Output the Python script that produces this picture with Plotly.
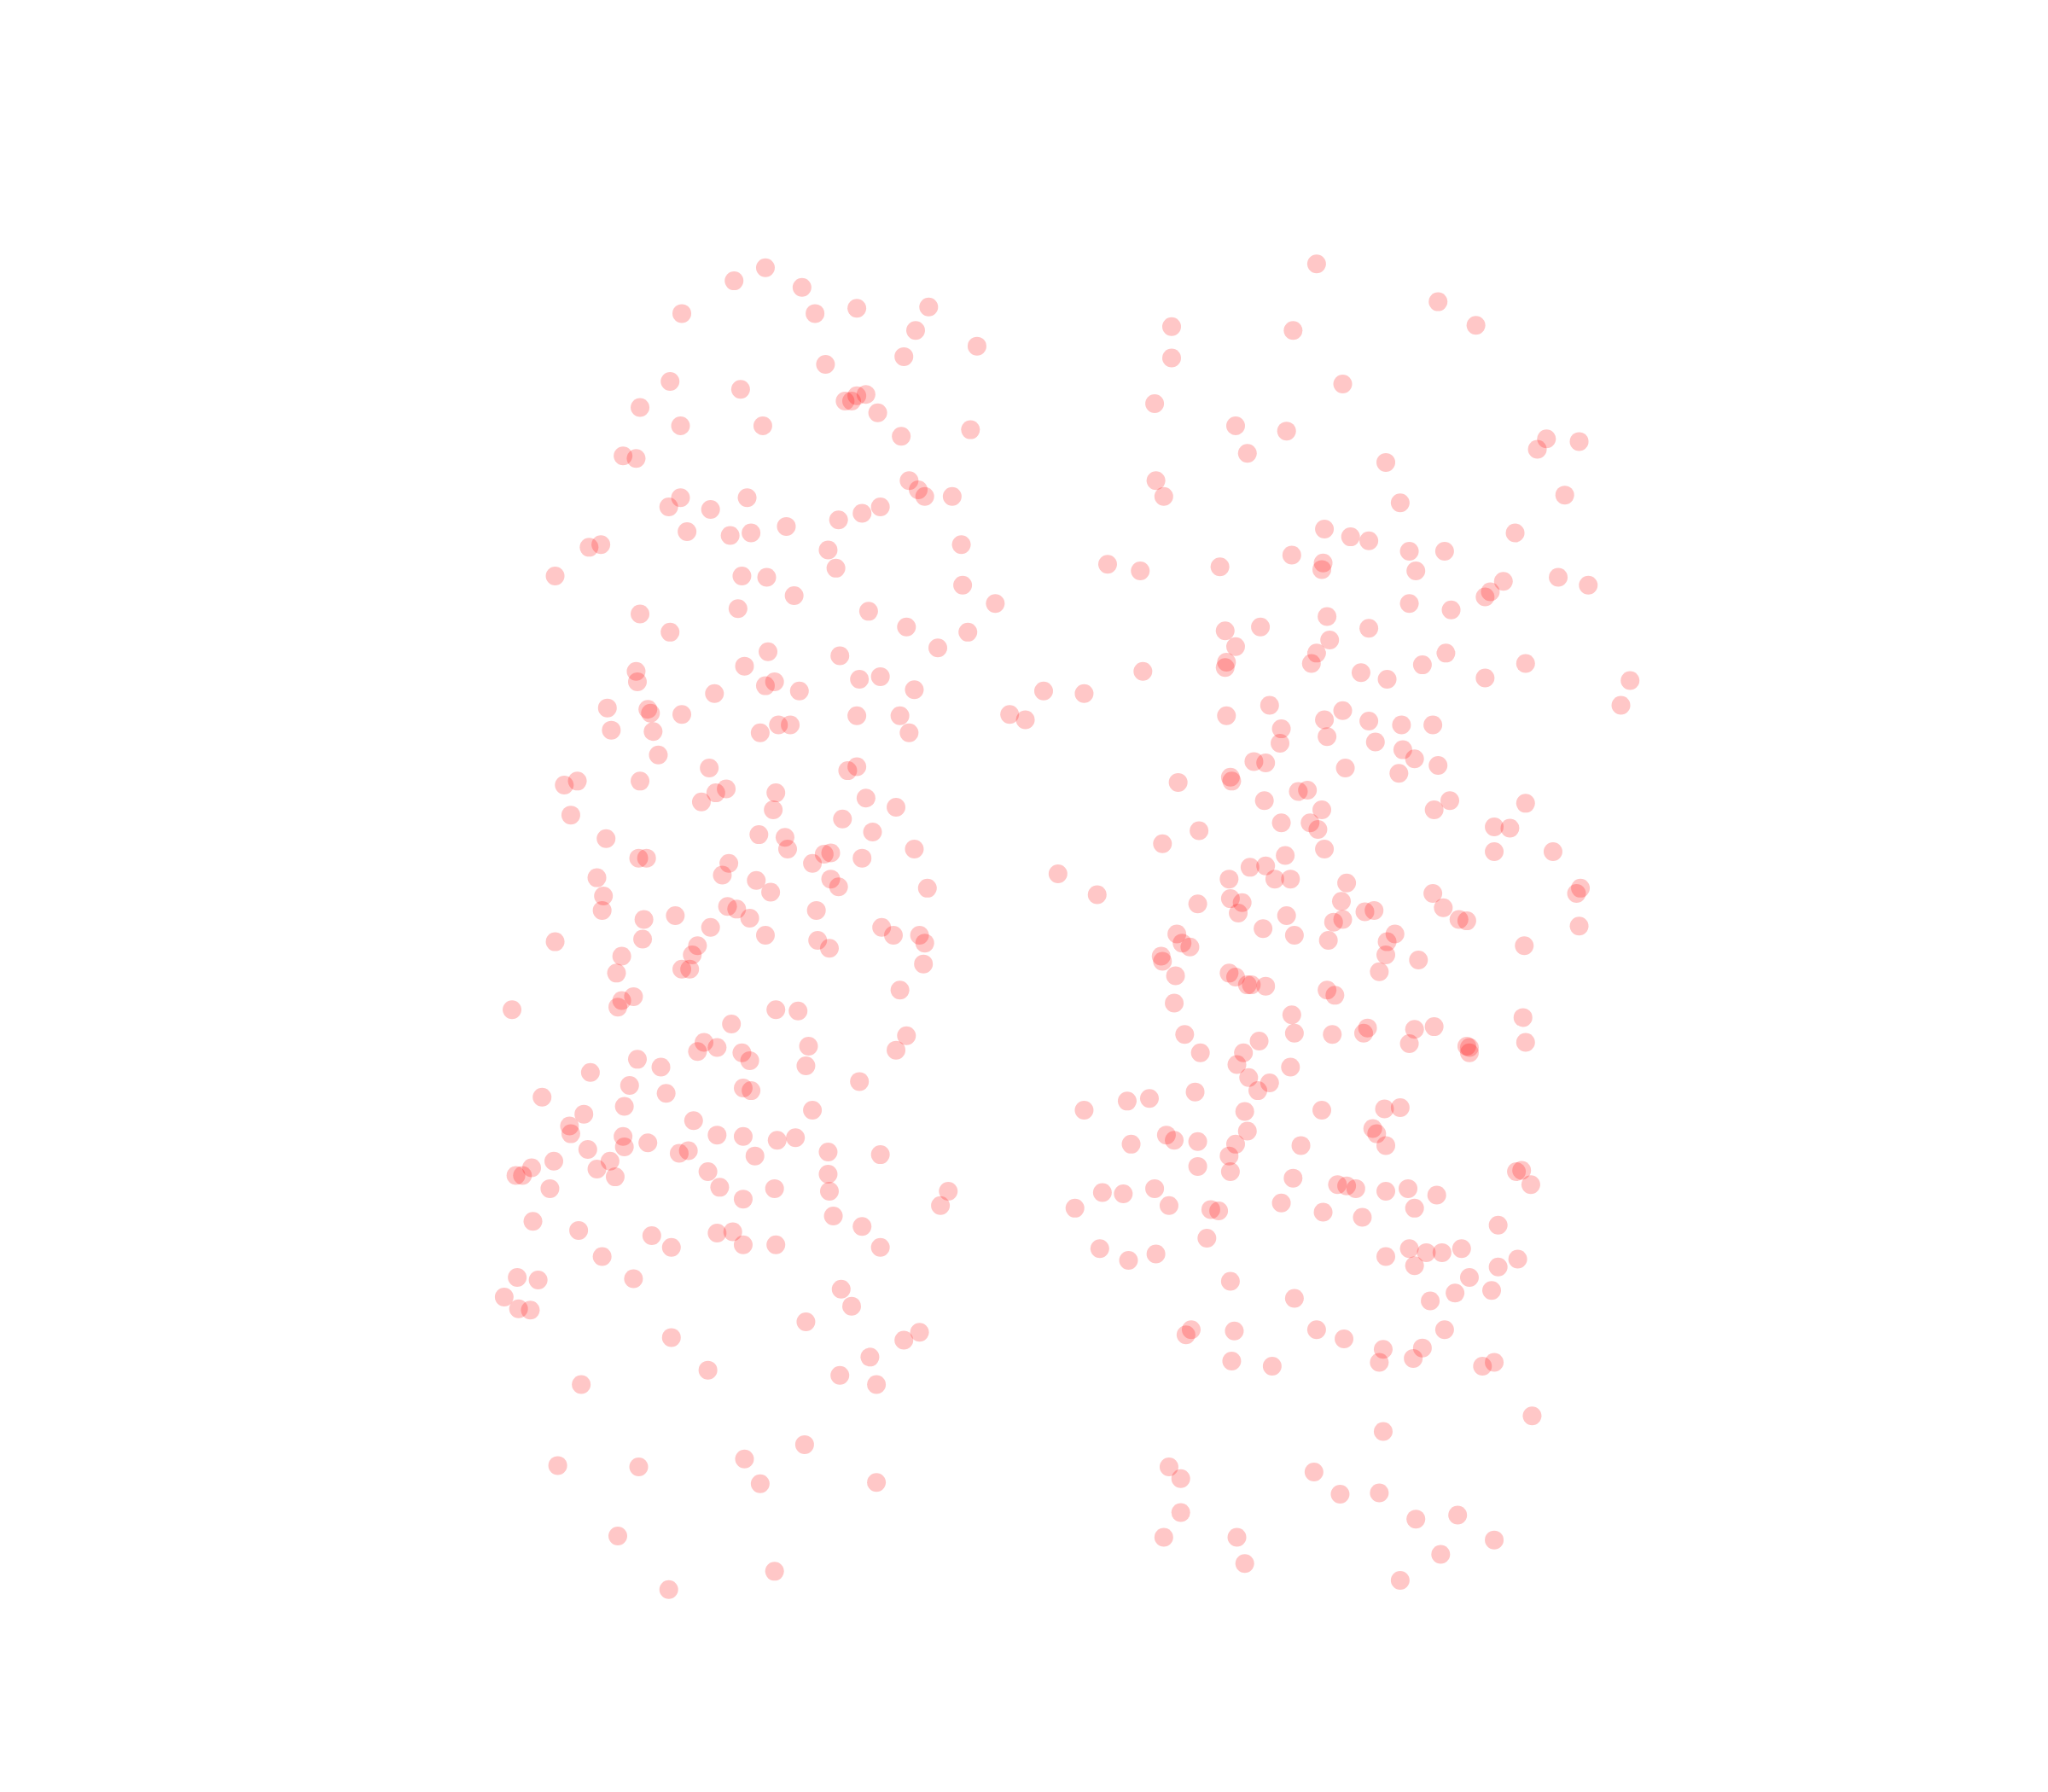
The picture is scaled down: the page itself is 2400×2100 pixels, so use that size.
import plotly.graph_objects as go

left_points = [(586,205),(562,215),(614,220),(522,240),(624,240),(656,236),(711,235),(701,253),(748,265),(692,273),(632,279),(513,292),(567,298),(647,307),(652,307),(656,303),(663,302),(672,316),(490,312),(521,326),(584,326),(690,334),(743,329),(477,349),(487,351),(696,368),(703,375),(708,380),(729,380),(521,381),(572,381),(512,388),(544,390),(660,393),(674,388),(642,398),(602,403),(526,407),(559,410),(575,408),(736,417),(634,421),(640,435),(451,419),(460,417),(425,441),(568,441),(587,442),(737,448),(608,456),(762,462),(565,466),(665,468),(490,470),(513,484),(694,480),(741,484),(718,496),(588,499),(643,502),(570,510),(487,514),(488,522),(593,522),(586,525),(612,529),(658,520),(674,518),(700,528),(547,531),(465,542),(496,543),(498,546),(522,547),(656,548),(689,548),(596,555),(605,555),(582,561),(468,559),(500,560),(696,561),(504,578),(543,588),(649,590),(656,587),(432,601),(442,598),(490,598),(556,604),(548,607),(537,614),(594,607),(663,611),(686,618),(592,620),(645,627),(437,624),(464,642),(581,639),(601,641),(668,637),(700,650),(603,650),(631,654),(636,653),(622,661),(660,657),(489,657),(495,657),(558,661),(553,670),(457,672),(579,674),(636,673),(642,679),(590,683),(710,680),(462,686),(461,697),(557,694),(564,696),(574,703),(625,697),(493,704),(517,701),(544,710),(675,710),(684,716),(704,716),(708,722),(586,716),(626,720),(635,726),(425,721),(492,719),(534,724),(530,731),(476,732),(522,742),(528,742),(707,738),(472,745),(689,758),(485,763),(476,766),(473,771),(392,773),(594,773),(611,774),(560,784),(694,793),(539,798),(549,802),(534,805),(568,806),(574,812),(619,801),(686,804),(488,811),(506,817),(617,816),(452,821),(482,831),(510,837),(569,833),(575,835),(658,828),(415,840),(478,847),(447,853),(622,850),(531,858),(436,862),(437,868),(477,870),(478,878),(496,875),(549,869),(569,870),(595,873),(609,871),(450,880),(520,883),(527,881),(578,885),(634,882),(674,884),(424,889),(467,889),(407,894),(395,900),(400,900),(457,895),(471,901),(542,897),(634,899),(421,910),(551,909),(593,910),(635,912),(569,918),(726,912),(720,923),(408,935),(638,931),(443,942),(499,946),(549,944),(561,943),(660,939),(514,955),(569,953),(594,953),(674,955),(461,962),(396,978),(412,980),(485,979),(386,993),(644,987),(397,1002),(406,1003),(652,1000),(617,1012),(514,1024),(704,1020),(692,1026),(666,1039),(542,1049),(643,1053),(445,1060),(671,1060),(616,1106),(570,1117),(427,1122),(489,1123),(582,1136),(671,1135),(473,1176),(593,1203),(512,1217)]

middle_points = [(773,547),(785,551),(799,529),(830,531),(810,669),(840,685)]

right_points = [(1008,202),(1101,231),(1130,249),(897,250),(990,253),(897,274),(1028,294),(884,309),(946,326),(985,330),(955,347),(1184,336),(1209,338),(1177,344),(1061,354),(885,368),(891,380),(1072,385),(1198,379),(1014,405),(1034,411),(1048,414),(1160,408),(989,425),(1079,422),(1106,422),(848,432),(873,437),(934,434),(1013,431),(1012,436),(1084,437),(1193,442),(1216,448),(1151,445),(1141,453),(1137,457),(1079,462),(1111,467),(1016,472),(965,480),(938,483),(1048,481),(1018,490),(946,495),(1008,500),(1107,500),(939,507),(938,511),(1004,508),(1089,509),(1168,508),(1042,515),(1062,520),(875,514),(1137,519),(1248,521),(1241,540),(972,540),(1028,544),(939,548),(1014,551),(1048,552),(1073,555),(1097,555),(981,558),(1016,564),(1053,568),(980,569),(1074,574),(960,583),(969,584),(1083,581),(1101,586),(1030,588),(1071,592),(902,599),(942,595),(943,598),(994,606),(1001,605),(968,613),(1110,613),(1098,620),(1168,615),(1012,620),(981,630),(1003,630),(1009,635),(1144,633),(1156,634),(918,636),(890,646),(1014,650),(1144,652),(1189,652),(984,655),(969,663),(957,664),(941,673),(976,673),(988,673),(1031,676),(1210,680),(1207,684),(942,688),(951,691),(917,692),(1027,690),(1097,684),(1045,698),(1052,697),(1105,695),(948,699),(985,701),(1028,704),(1021,706),(1117,704),(1123,705),(1209,709),(967,711),(991,716),(901,715),(1068,715),(905,722),(911,725),(1017,720),(1062,721),(1167,724),(889,732),(890,736),(1061,731),(1086,735),(1056,744),(941,745),(946,748),(900,747),(955,754),(958,754),(969,755),(1016,758),(1022,762),(899,768),(989,777),(1166,779),(1047,787),(1044,791),(1083,788),(1098,786),(991,791),(1020,792),(907,792),(964,797),(1079,799),(1168,798),(1123,801),(1125,802),(1125,806),(919,806),(952,806),(947,815),(988,817),(956,825),(972,829),(963,835),(915,836),(880,841),(863,843),(830,850),(953,851),(1012,850),(1060,849),(1072,848),(1051,864),(1054,868),(955,866),(893,869),(899,873),(917,874),(946,876),(866,876),(996,877),(1061,877),(941,885),(917,893),(942,897),(1161,897),(1165,896),(990,902),(1172,907),(1024,907),(1031,908),(1038,910),(1061,912),(1078,910),(1100,915),(844,913),(860,914),(884,910),(895,923),(823,925),(981,921),(927,926),(933,927),(1013,928),(1043,932),(1083,925),(1147,938),(924,948),(1079,956),(1092,959),(1104,959),(1119,956),(842,956),(885,960),(864,965),(1061,962),(1083,969),(1162,964),(1147,970),(942,981),(1125,978),(1142,988),(1114,990),(991,994),(1095,996),(912,1018),(908,1022),(945,1019),(1008,1018),(1029,1025),(1106,1018),(1059,1033),(1089,1032),(1082,1040),(943,1042),(974,1046),(1056,1043),(1144,1043),(1135,1046),(1173,1084),(1059,1096),(895,1123),(904,1132),(1006,1127),(1026,1144),(1056,1143),(904,1158),(1084,1163),(1116,1160),(891,1177),(947,1177),(1144,1179),(1103,1190),(953,1197),(1072,1210)]

points = left_points + middle_points + right_points
xs = [p[0] for p in points]
ys = [p[1] for p in points]

fig = go.Figure(go.Scatter(
    x=xs, y=ys, mode="markers",
    marker=dict(color="red", opacity=0.22, size=22, line=dict(width=0)),
    hoverinfo="skip",
))
fig.update_layout(
    width=2400, height=2100,
    margin=dict(l=0, r=0, t=0, b=0),
    paper_bgcolor="white", plot_bgcolor="white",
    showlegend=False,
    xaxis=dict(visible=False, range=[5.2, 1573.2]),
    yaxis=dict(visible=False, range=[1377.2, 5.2]),
)
fig.write_html("out.html")
